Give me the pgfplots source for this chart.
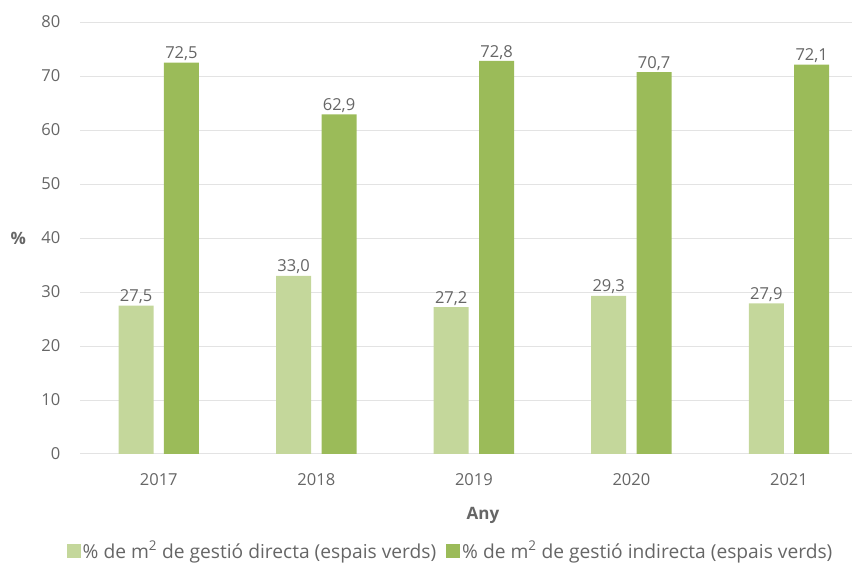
\documentclass[border=0pt]{standalone}
\usepackage{fontspec}
\setmainfont{Open Sans}
\usepackage{pgfplots}
\pgfplotsset{compat=1.18}
\definecolor{lightg}{HTML}{C4D79B}
\definecolor{darkg}{HTML}{9BBB59}
\definecolor{txt}{HTML}{666666}
\definecolor{grd}{HTML}{E3E3E3}
\begin{document}
\fontsize{16.5pt}{19pt}\selectfont
\begin{tikzpicture}[x=1pt,y=1pt]
\useasboundingbox (-80,-111) rectangle (775,454);
\begin{axis}[
  at={(0,0)}, anchor=south west,
  scale only axis, width=772pt, height=432pt,
  ymin=0, ymax=80, ytick={0,10,...,80},
  xmin=-0.5, xmax=4.4,
  xtick={0,1,2,3,4}, xticklabels={2017,2018,2019,2020,2021},
  ybar, bar width=35pt,
  axis line style={draw=none},
  major tick length=0pt,
  ymajorgrids, grid style={grd, line width=1pt},
  tick label style={text=txt, font=\fontsize{16.5pt}{19pt}\selectfont},
  /pgf/number format/assume math mode=true,
  yticklabel style={xshift=-14pt},
  xticklabel style={yshift=-14pt},
  xlabel={\textbf{Any}}, xlabel style={text=txt, at={(axis description cs:0.522,0)}, anchor=center, yshift=-61pt, font=\fontsize{17pt}{19pt}\selectfont},
  ylabel={\textbf{\%}}, ylabel style={rotate=-90, text=txt, at={(axis description cs:-0.08,0.5)}, anchor=center, font=\fontsize{17pt}{19pt}\selectfont},
  nodes near coords, nodes near coords style={text=txt, inner sep=1.5pt, font=\fontsize{16.5pt}{19pt}\selectfont, /pgf/number format/.cd, use comma, fixed, fixed zerofill, precision=1, assume math mode=true},
  legend style={at={(axis description cs:0.48,0)}, anchor=center, yshift=-97pt, draw=none, fill=none, text=txt, font=\fontsize{19.2pt}{21pt}\selectfont, legend columns=2, /tikz/every even column/.append style={column sep=8pt}, inner sep=0pt},
  legend image code/.code={\fill[#1] (0pt,-7pt) rectangle (14pt,7pt);},
]
\addplot[fill=lightg, draw=none, bar shift=-22.7pt] coordinates {(0,27.5) (1,33.0) (2,27.2) (3,29.3) (4,27.9)};
\addplot[fill=darkg, draw=none, bar shift=22.7pt] coordinates {(0,72.5) (1,62.9) (2,72.8) (3,70.7) (4,72.1)};
\legend{\% de m\textsuperscript{2} de gestió directa (espais verds), \% de m\textsuperscript{2} de gestió indirecta (espais verds)}
\end{axis}
\end{tikzpicture}
\end{document}
